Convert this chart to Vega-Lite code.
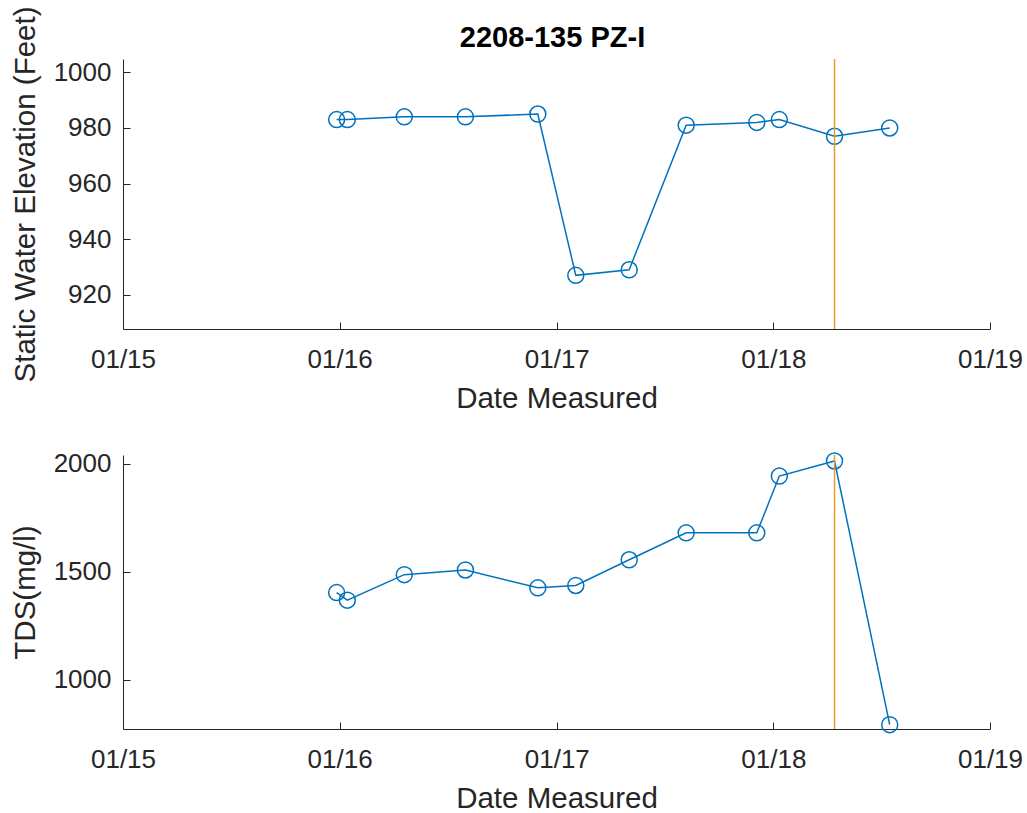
{
  "$schema": "https://vega.github.io/schema/vega-lite/v6.json",
  "description": "Static water elevation and TDS for well 2208-135 PZ-I.",
  "padding": {"left": 10, "top": 6, "right": 20, "bottom": 5},
  "datasets": {
    "samples": [
      {"date": "2015-12-27", "elevation": 983, "tds": 1404},
      {"date": "2016-01-14", "elevation": 983, "tds": 1369},
      {"date": "2016-04-19", "elevation": 984, "tds": 1487},
      {"date": "2016-07-31", "elevation": 984, "tds": 1509},
      {"date": "2016-11-30", "elevation": 985, "tds": 1426},
      {"date": "2017-02-02", "elevation": 927, "tds": 1437},
      {"date": "2017-05-03", "elevation": 929, "tds": 1556},
      {"date": "2017-08-07", "elevation": 981, "tds": 1681},
      {"date": "2017-12-04", "elevation": 982, "tds": 1681},
      {"date": "2018-01-11", "elevation": 983, "tds": 1944},
      {"date": "2018-04-14", "elevation": 977, "tds": 2014},
      {"date": "2018-07-16", "elevation": 980, "tds": 792}
    ],
    "marker": [
      {"date": "2018-04-14"}
    ]
  },
  "bounds": "flush",
  "spacing": 126,
  "vconcat": [
    {
      "width": 867,
      "height": 270,
      "title": {
        "text": "2208-135 PZ-I",
        "font": "Liberation Sans",
        "fontSize": 29,
        "fontWeight": "bold",
        "color": "#000000",
        "anchor": "middle",
        "frame": "group",
        "baseline": "alphabetic",
        "offset": 11,
        "dx": -4,
        "dy": 81
      },
      "encoding": {
        "x": {
          "field": "date",
          "type": "temporal",
          "title": "Date Measured",
          "scale": {
            "type": "utc",
            "domain": [
              {"year": 2015, "month": 1, "date": 1, "utc": true},
              {"year": 2019, "month": 1, "date": 1, "utc": true}
            ]
          },
          "axis": {
            "format": "%m/%y",
            "values": [
              {"year": 2015, "month": 1, "date": 1, "utc": true},
              {"year": 2016, "month": 1, "date": 1, "utc": true},
              {"year": 2017, "month": 1, "date": 1, "utc": true},
              {"year": 2018, "month": 1, "date": 1, "utc": true},
              {"year": 2019, "month": 1, "date": 1, "utc": true}
            ]
          }
        }
      },
      "layer": [
        {
          "data": {"name": "samples"},
          "mark": {
            "type": "line",
            "color": "#0072BD",
            "strokeWidth": 1.5,
            "point": {"filled": false, "size": 256, "strokeWidth": 1.5, "color": "#0072BD"}
          },
          "encoding": {
            "y": {
              "field": "elevation",
              "type": "quantitative",
              "title": "Static Water Elevation (Feet)",
              "scale": {"domain": [907.7, 1004.8], "nice": false, "zero": false},
              "axis": {"values": [920, 940, 960, 980, 1000], "format": "d"}
            }
          }
        },
        {
          "data": {"name": "marker"},
          "mark": {"type": "rule", "color": "#EA9C2C", "strokeWidth": 1.5},
          "encoding": {}
        }
      ]
    },
    {
      "width": 867,
      "height": 274,
      "encoding": {
        "x": {
          "field": "date",
          "type": "temporal",
          "title": "Date Measured",
          "scale": {
            "type": "utc",
            "domain": [
              {"year": 2015, "month": 1, "date": 1, "utc": true},
              {"year": 2019, "month": 1, "date": 1, "utc": true}
            ]
          },
          "axis": {
            "format": "%m/%y",
            "values": [
              {"year": 2015, "month": 1, "date": 1, "utc": true},
              {"year": 2016, "month": 1, "date": 1, "utc": true},
              {"year": 2017, "month": 1, "date": 1, "utc": true},
              {"year": 2018, "month": 1, "date": 1, "utc": true},
              {"year": 2019, "month": 1, "date": 1, "utc": true}
            ]
          }
        }
      },
      "layer": [
        {
          "data": {"name": "samples"},
          "mark": {
            "type": "line",
            "color": "#0072BD",
            "strokeWidth": 1.5,
            "point": {"filled": false, "size": 256, "strokeWidth": 1.5, "color": "#0072BD"}
          },
          "encoding": {
            "y": {
              "field": "tds",
              "type": "quantitative",
              "title": "TDS(mg/l)",
              "scale": {"domain": [771.8, 2041.7], "nice": false, "zero": false},
              "axis": {"values": [1000, 1500, 2000], "format": "d"}
            }
          }
        },
        {
          "data": {"name": "marker"},
          "mark": {"type": "rule", "color": "#EA9C2C", "strokeWidth": 1.5},
          "encoding": {}
        }
      ]
    }
  ],
  "config": {
    "view": {"stroke": null},
    "axis": {
      "grid": false,
      "domainColor": "#262626",
      "domainWidth": 1,
      "tickColor": "#262626",
      "tickSize": -7,
      "tickWidth": 1,
      "labelFont": "Liberation Sans",
      "labelFontSize": 26,
      "labelColor": "#262626",
      "titleFont": "Liberation Sans",
      "titleFontSize": 29.5,
      "titleFontWeight": "normal",
      "titleColor": "#262626"
    },
    "axisX": {"labelPadding": 24, "titlePadding": 12, "labelFlush": false},
    "axisY": {"labelPadding": 19, "titlePadding": 13}
  }
}
